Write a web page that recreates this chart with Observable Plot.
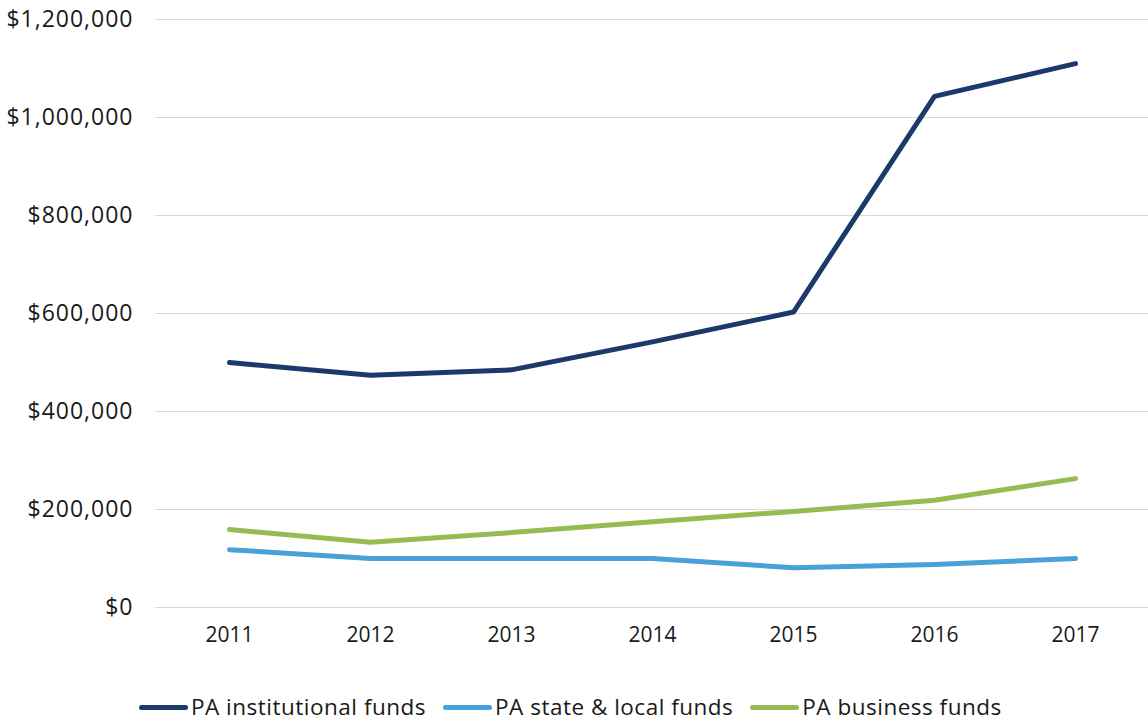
<!DOCTYPE html>
<html>
<head>
<meta charset="utf-8">
<script src="https://cdn.jsdelivr.net/npm/d3@7"></script>
<script src="https://cdn.jsdelivr.net/npm/@observablehq/plot@0.6"></script>
<style>
  html, body { margin: 0; padding: 0; background: #fff; overflow: hidden; }
  #chart { width: 1148px; position: relative; height: 723px; }
  .legend { position: absolute; left: 139px; top: 696px; height: 22px; display: flex; align-items: center; font-family: "Open Sans", sans-serif; font-size: 22.5px; letter-spacing: 0.5px; color: #1a1a1a; line-height: 22px; }
  .legend .item { display: flex; align-items: center; margin-right: 17px; }
  .legend .sw { width: 49px; height: 5px; border-radius: 3px; margin-right: 3px; margin-top: 1px; }
</style>
</head>
<body>
<div id="chart"></div>
<script>
const years = ["2011", "2012", "2013", "2014", "2015", "2016", "2017"];
const seriesNames = ["PA institutional funds", "PA state & local funds", "PA business funds"];
const institutional = [500000, 474000, 485000, 542000, 603000, 1043000, 1110000];
const stateLocal = [118000, 100000, 100000, 100000, 81000, 88000, 100000];
const business = [159000, 133000, 153000, 175000, 196000, 219000, 263000];
const colors = ["#1b3a6b", "#4aa0d9", "#95bc52"];
const yTicks = [0, 200000, 400000, 600000, 800000, 1000000, 1200000];

const valuesBySeries = [institutional, stateLocal, business];
const data = [];
seriesNames.forEach((s, i) => years.forEach((y, j) => data.push({series: s, year: y, value: valuesBySeries[i][j]})));

const fmt = d => "$" + d3.format(",")(d);

const chart = Plot.plot({
  width: 1148,
  height: 660,
  marginLeft: 155,
  marginRight: 0,
  marginTop: 19,
  marginBottom: 53,
  style: {fontFamily: "'Open Sans', sans-serif", fontSize: "20px", color: "#1a1a1a", background: "#fff"},
  x: {type: "point", domain: years, padding: 0.5, label: null},
  y: {domain: [0, 1200000], ticks: yTicks, label: null},
  color: {domain: seriesNames, range: colors},
  marks: [
    Plot.gridY(yTicks, {stroke: "#d9d9d9", strokeOpacity: 1, strokeWidth: 1}),
    Plot.axisY(yTicks, {tickSize: 0, tickPadding: 22, tickFormat: fmt, fontSize: 23, label: null}),
    Plot.axisX({tickSize: 0, tickPadding: 20, fontSize: 21, label: null}),
    Plot.line(data, {x: "year", y: "value", z: "series", stroke: "series", strokeWidth: 5, strokeLinecap: "round", strokeLinejoin: "round"})
  ]
});
document.getElementById("chart").appendChild(chart);
// slightly widen the y tick labels to match the reference's wide typeface
d3.select(chart).selectAll("g[aria-label='y-axis tick label'] text").style("letter-spacing", "1px");

const legend = document.createElement("div");
legend.className = "legend";
seriesNames.forEach((s, i) => {
  const item = document.createElement("div");
  item.className = "item";
  const sw = document.createElement("span");
  sw.className = "sw";
  sw.style.background = colors[i];
  const t = document.createElement("span");
  t.textContent = s;
  item.appendChild(sw);
  item.appendChild(t);
  legend.appendChild(item);
});
document.getElementById("chart").appendChild(legend);
</script>
</body>
</html>
